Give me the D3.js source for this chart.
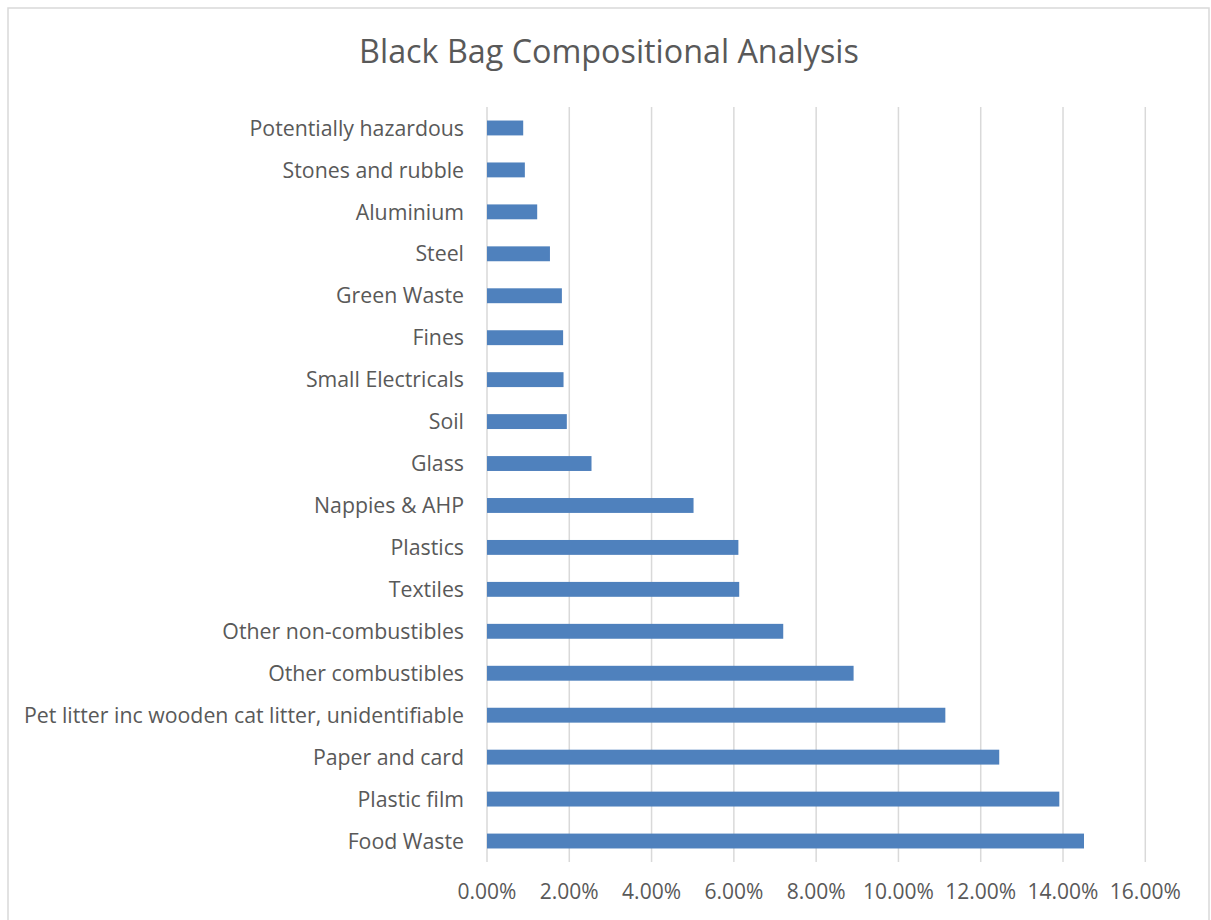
<!DOCTYPE html>
<html>
<head>
<meta charset="utf-8">
<script src="https://cdn.jsdelivr.net/npm/d3@7"></script>
<style>
  body { margin: 0; background: #fff; }
  text { font-family: "Open Sans", Lato, sans-serif; fill: #595959; }
</style>
</head>
<body>
<div class="chart"></div>
<script>
// categories top to bottom
const categories = [
  'Potentially hazardous', 'Stones and rubble', 'Aluminium', 'Steel', 'Green Waste',
  'Fines', 'Small Electricals', 'Soil', 'Glass', 'Nappies & AHP', 'Plastics', 'Textiles',
  'Other non-combustibles', 'Other combustibles',
  'Pet litter inc wooden cat litter, unidentifiable', 'Paper and card', 'Plastic film', 'Food Waste'
];
// share of black bag (%)
const values = [0.88, 0.92, 1.22, 1.53, 1.82, 1.85, 1.86, 1.94, 2.54, 5.02, 6.11, 6.13, 7.20, 8.91, 11.14, 12.45, 13.91, 14.51];
const xTicks = [0, 2, 4, 6, 8, 10, 12, 14, 16];

const data = categories.map((c, i) => ({name: c, value: values[i]}));

const svg = d3.select('.chart')
  .append('svg')
  .attr('width', 1211)
  .attr('height', 920);

// chart border
svg.append('rect')
  .attr('x', 8).attr('y', 8)
  .attr('width', 1201).attr('height', 930)
  .attr('fill', 'none')
  .attr('stroke', '#d9d9d9')
  .attr('stroke-width', 1.5);

svg.append('text')
  .attr('x', 609)
  .attr('y', 63)
  .attr('text-anchor', 'middle')
  .style('font-size', '32.3px')
  .text('Black Bag Compositional Analysis');

const margin = {top: 107, left: 487}
const graphWidth = 1145.3 - margin.left
const graphHeight = 862 - margin.top

const graph = svg.append('g')
  .attr('transform', `translate(${margin.left}, ${margin.top})`)

const x = d3.scaleLinear()
  .domain([0, 16])
  .range([0, graphWidth]);

const y = d3.scaleBand()
  .domain(categories)
  .range([0, graphHeight])
  .paddingInner(0.645)
  .paddingOuter(0.3225);

// gridlines
graph.selectAll('line.grid')
  .data(xTicks)
  .enter().append('line')
    .attr('class', 'grid')
    .attr('x1', d => x(d)).attr('x2', d => x(d))
    .attr('y1', 0).attr('y2', graphHeight)
    .attr('stroke', '#d9d9d9')
    .attr('stroke-width', 1.5);

graph.selectAll('rect.bar')
  .data(data)
  .enter().append('rect')
    .attr('class', 'bar')
    .attr('x', x(0))
    .attr('y', d => y(d.name))
    .attr('width', d => x(d.value) - x(0))
    .attr('height', y.bandwidth())
    .attr('fill', '#4f81bd');

// category labels
graph.selectAll('text.cat')
  .data(categories)
  .enter().append('text')
    .attr('class', 'cat')
    .attr('x', -23)
    .attr('y', d => y(d) + y.bandwidth() / 2)
    .attr('dy', '0.36em')
    .attr('text-anchor', 'end')
    .style('font-size', '21.3px')
    .text(d => d);

// x tick labels
graph.selectAll('text.tick')
  .data(xTicks)
  .enter().append('text')
    .attr('class', 'tick')
    .attr('x', d => x(d))
    .attr('y', graphHeight + 29)
    .attr('dy', '0.36em')
    .attr('text-anchor', 'middle')
    .style('font-size', '21px')
    .text(d => d3.format('.2f')(d) + '%');
</script>
</body>
</html>
